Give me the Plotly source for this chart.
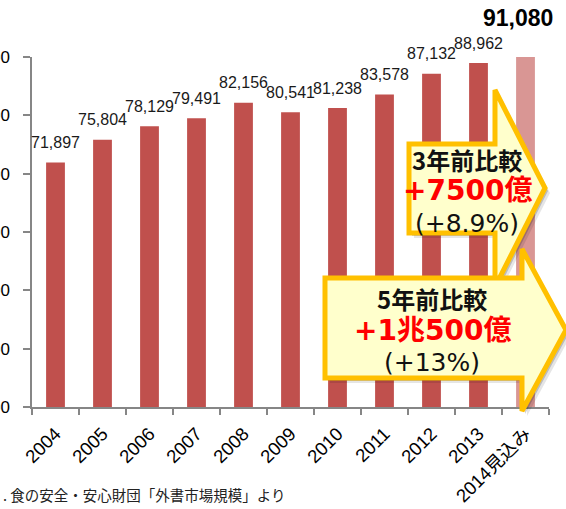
import plotly.graph_objects as go

# Eating-out market size (100 million yen), 2014 is a forecast
years = ["2004", "2005", "2006", "2007", "2008", "2009", "2010", "2011", "2012", "2013", "2014見込み"]
market = [71897, 75804, 78129, 79491, 82156, 80541, 81238, 83578, 87132, 88962, 91080]
bar_colors = ["#C0504D"] * 10 + ["#D99694"]

y_ticks = [30000, 40000, 50000, 60000, 70000, 80000, 90000]

# callout texts
cmp3_title, cmp3_value, cmp3_pct = "3年前比較", "+7500億", "(+8.9%)"
cmp5_title, cmp5_value, cmp5_pct = "5年前比較", "+1兆500億", "(+13%)"
source_note = ". 食の安全・安心財団「外書市場規模」より"

W, H = 566, 509
L, R, T, B = 32, 549, 57, 407


def px(x):
    return (x - L) / (R - L)


def py(y):
    return (B - y) / (B - T)


def arrow_path(x0, yt, yb, hb, ht, hbot, tx, ty, dx=0, dy=0):
    pts = [(x0, yt), (hb, yt), (hb, ht), (tx, ty), (hb, hbot), (hb, yb), (x0, yb)]
    return "M " + " L ".join(f"{px(x + dx):.5f},{py(y + dy):.5f}" for x, y in pts) + " Z"


fig = go.Figure()
fig.add_trace(go.Bar(
    x=years, y=market,
    marker=dict(color=bar_colors, line=dict(width=0)),
    width=0.4,
    hoverinfo="x+y",
))

annotations = []
label_font = dict(family="Arial, Liberation Sans, sans-serif", size=16, color="#1a1a1a")
# category positions are given by index so numeric-looking names are not read as numbers
for i, v in enumerate(market[:-1]):
    annotations.append(dict(
        x=i, y=v, xref="x", yref="y", text=f"{v:,}", showarrow=False,
        yshift=20, yanchor="middle", xanchor="center", font=label_font,
    ))
# forecast value sits above the axis top
annotations.append(dict(
    x=len(market) - 1, y=py(18), xref="x", yref="paper", text=f"{market[-1]:,}",
    showarrow=False, xshift=-8, yanchor="middle", xanchor="center",
    font=dict(family="Arial, Liberation Sans, sans-serif", size=23, color="#000", weight="bold"),
))

cjk = "DejaVu Sans, Noto Sans CJK JP, sans-serif"


def callout(cx, y1, y2, y3, title, value, pct):
    annotations.append(dict(x=px(cx), y=py(y1), xref="paper", yref="paper", text=title,
                            showarrow=False, xanchor="center", yanchor="middle",
                            font=dict(family="Noto Sans CJK JP, sans-serif", size=24, color="#111", weight="bold")))
    annotations.append(dict(x=px(cx), y=py(y2), xref="paper", yref="paper", text=value,
                            showarrow=False, xanchor="center", yanchor="middle",
                            font=dict(family=cjk, size=28, color="#FF0000", weight="bold")))
    annotations.append(dict(x=px(cx), y=py(y3), xref="paper", yref="paper", text=pct,
                            showarrow=False, xanchor="center", yanchor="middle",
                            font=dict(family=cjk, size=25, color="#111")))


callout(467, 159, 190, 223, cmp3_title, cmp3_value, cmp3_pct)
callout(432, 298, 330, 362, cmp5_title, cmp5_value, cmp5_pct)

annotations.append(dict(x=px(1), y=py(495), xref="paper", yref="paper", text=source_note,
                        showarrow=False, xanchor="left", yanchor="middle",
                        font=dict(family="Noto Sans CJK JP, sans-serif", size=14.5, color="#222")))

arrow1 = (409, 144, 233, 495, 90, 287, 545, 188)
arrow2 = (325, 278, 378, 522, 249, 411, 566, 330)

shapes = []
for a in (arrow1, arrow2):
    for off, alpha in ((5, 0.10), (3, 0.18)):
        shapes.append(dict(type="path", xref="paper", yref="paper", layer="above",
                           path=arrow_path(*a, dx=off, dy=off),
                           fillcolor=f"rgba(0,0,0,{alpha})", line=dict(width=0)))
    shapes.append(dict(type="path", xref="paper", yref="paper", layer="above",
                       path=arrow_path(*a), fillcolor="#FFFFCC",
                       line=dict(color="#FFC000", width=5)))

axis_grey = "#868686"
fig.update_layout(
    width=W, height=H,
    margin=dict(l=L, r=W - R, t=T, b=H - B, autoexpand=False),
    paper_bgcolor="white", plot_bgcolor="white",
    showlegend=False,
    annotations=annotations,
    shapes=shapes,
    xaxis=dict(
        type="category", range=[-0.5, len(years) - 0.5], tickson="boundaries",
        ticks="outside", ticklen=6, ticklabelstandoff=7,
        tickcolor=axis_grey, tickwidth=1.5, showline=True, linecolor=axis_grey, linewidth=1.5,
        tickangle=-45, showgrid=False, automargin=False,
        tickfont=dict(family="Arial, Liberation Sans, Noto Sans CJK JP, sans-serif", size=18.5, color="#000"),
    ),
    yaxis=dict(
        range=[30000, 90000], tickvals=y_ticks, tickformat=",", ticks="outside", ticklen=7,
        tickcolor=axis_grey, tickwidth=1.5, showline=True, linecolor=axis_grey, linewidth=1.5,
        showgrid=False, zeroline=False, automargin=False, ticklabelstandoff=10,
        tickfont=dict(family="Arial, Liberation Sans, sans-serif", size=17, color="#000"),
    ),
)

fig.write_html("out.html")
